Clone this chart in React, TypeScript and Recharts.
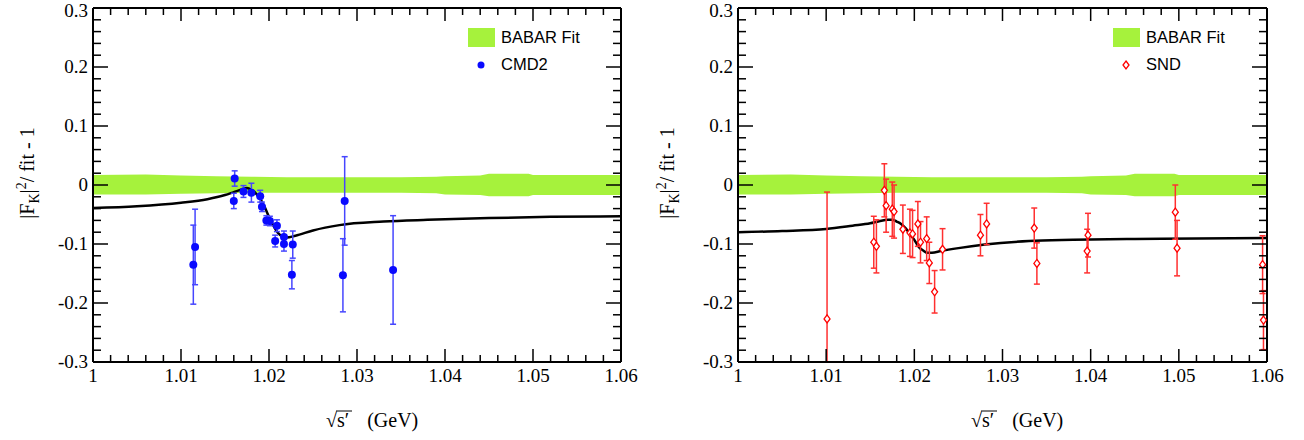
import React from "react";
import { ComposedChart, XAxis, YAxis, Scatter, Line, Area, ErrorBar, Legend } from "recharts";

// axis ticks
const xMajor = [1, 1.01, 1.02, 1.03, 1.04, 1.05, 1.06];
const xLabels = ["1", "1.01", "1.02", "1.03", "1.04", "1.05", "1.06"];
const yMajor = [-0.3, -0.2, -0.1, 0, 0.1, 0.2, 0.3];
const yLabels = ["-0.3", "-0.2", "-0.1", "0", "0.1", "0.2", "0.3"];

// CMD2 points
const cmd2X = [1.0114, 1.0116, 1.0161, 1.016, 1.0171, 1.018, 1.019, 1.0192, 1.0197, 1.0201, 1.0209, 1.0207, 1.0217, 1.0217, 1.0227, 1.0226, 1.0286, 1.0284, 1.0341];
const cmd2Y = [-0.135, -0.105, 0.011, -0.027, -0.011, -0.013, -0.019, -0.037, -0.06, -0.061, -0.069, -0.095, -0.088, -0.1, -0.101, -0.152, -0.027, -0.153, -0.144];
const cmd2Err = [0.067, 0.064, 0.013, 0.013, 0.01, 0.016, 0.01, 0.008, 0.008, 0.008, 0.01, 0.01, 0.01, 0.012, 0.023, 0.024, 0.075, 0.062, 0.092];

// SND points (lower error of the first point is cut at the frame, as drawn)
const sndX = [1.0101, 1.0154, 1.0157, 1.0166, 1.0168, 1.0175, 1.0177, 1.0187, 1.0195, 1.0198, 1.0204, 1.0207, 1.0214, 1.0217, 1.0223, 1.0232, 1.0275, 1.0282, 1.0336, 1.0339, 1.0397, 1.0396, 1.0496, 1.0498, 1.0595, 1.0596];
const sndY = [-0.227, -0.097, -0.104, -0.009, -0.035, -0.041, -0.045, -0.075, -0.081, -0.083, -0.066, -0.097, -0.091, -0.132, -0.181, -0.109, -0.085, -0.066, -0.073, -0.133, -0.085, -0.112, -0.046, -0.107, -0.135, -0.229];
const sndErrLo = [0.073, 0.044, 0.045, 0.045, 0.045, 0.046, 0.045, 0.041, 0.04, 0.04, 0.038, 0.035, 0.037, 0.035, 0.036, 0.035, 0.035, 0.035, 0.034, 0.035, 0.037, 0.037, 0.046, 0.047, 0.049, 0.05];
const sndErrHi = [0.215, 0.044, 0.045, 0.045, 0.045, 0.046, 0.045, 0.041, 0.04, 0.04, 0.038, 0.035, 0.037, 0.035, 0.036, 0.035, 0.035, 0.035, 0.034, 0.035, 0.037, 0.037, 0.046, 0.047, 0.049, 0.05];

// fit curves (black lines)
const fitX = [1.0, 1.005, 1.01, 1.013, 1.015, 1.016, 1.017, 1.0175, 1.018, 1.0185, 1.019, 1.0195, 1.02, 1.0205, 1.021, 1.0215, 1.022, 1.023, 1.025, 1.028, 1.033, 1.038, 1.045, 1.052, 1.06];
const fitCmd2 = [-0.039, -0.036, -0.03, -0.024, -0.017, -0.012, -0.007, -0.005, -0.008, -0.014, -0.023, -0.037, -0.054, -0.069, -0.081, -0.087, -0.089, -0.086, -0.077, -0.068, -0.062, -0.059, -0.056, -0.054, -0.053];
const fitSnd = [-0.08, -0.078, -0.0745, -0.069, -0.065, -0.0616, -0.059, -0.059, -0.062, -0.066, -0.073, -0.083, -0.093, -0.105, -0.111, -0.115, -0.115, -0.112, -0.107, -0.101, -0.095, -0.093, -0.0915, -0.0905, -0.0898];

// BABAR fit band
const bandX = [1.0, 1.006, 1.01, 1.014, 1.018, 1.022, 1.026, 1.03, 1.035, 1.039, 1.04, 1.044, 1.045, 1.0495, 1.05, 1.055, 1.06];
const bandLo = [-0.016, -0.016, -0.015, -0.014, -0.013, -0.013, -0.013, -0.013, -0.013, -0.014, -0.016, -0.017, -0.019, -0.019, -0.017, -0.017, -0.017];
const bandHi = [0.017, 0.018, 0.016, 0.015, 0.014, 0.013, 0.013, 0.013, 0.013, 0.014, 0.015, 0.016, 0.019, 0.019, 0.017, 0.017, 0.017];

const GREEN = "#a6f23c";
const SERIF = "Liberation Serif, Times New Roman, serif";
const SANS = "Liberation Sans, Arial, sans-serif";

const xTicks: number[] = [];
for (let i = 0; i <= 30; i++) xTicks.push(Math.round((1 + i * 0.002) * 10000) / 10000);
const yTicks: number[] = [];
for (let i = 0; i <= 30; i++) yTicks.push(Math.round((-0.3 + i * 0.02) * 1000) / 1000);

const majorIdx = (list: number[], v: number) => list.findIndex((m) => Math.abs(m - v) < 1e-6);

const bandData = bandX.map((x, i) => ({ x, band: [bandLo[i], bandHi[i]] }));

function BottomTick(props: any) {
  const { x, y, payload } = props;
  const i = majorIdx(xMajor, payload.value);
  const len = i >= 0 ? 12 : 6;
  const y0 = y - 1;
  return (
    <g>
      <line x1={x} x2={x} y1={y0} y2={y0 - len} stroke="#000" strokeWidth={1.5} />
      {i >= 0 && (
        <text x={x} y={y0 + 21} textAnchor="middle" fontFamily={SERIF} fontSize={19} fill="#000">
          {xLabels[i]}
        </text>
      )}
    </g>
  );
}

function TopTick(props: any) {
  const { x, y, payload } = props;
  const len = majorIdx(xMajor, payload.value) >= 0 ? 12 : 6;
  const y0 = y + 1;
  return <line x1={x} x2={x} y1={y0} y2={y0 + len} stroke="#000" strokeWidth={1.5} />;
}

function LeftTick(props: any) {
  const { x, y, payload } = props;
  const i = majorIdx(yMajor, payload.value);
  const len = i >= 0 ? 15 : 8;
  return (
    <g>
      <line x1={x} x2={x + len} y1={y} y2={y} stroke="#000" strokeWidth={1.5} />
      {i >= 0 && (
        <text x={x - 5} y={Math.max(y + 5.5, 17)} textAnchor="end" fontFamily={SERIF} fontSize={19} fill="#000">
          {yLabels[i]}
        </text>
      )}
    </g>
  );
}

function RightTick(props: any) {
  const { x, y, payload } = props;
  const len = majorIdx(yMajor, payload.value) >= 0 ? 15 : 8;
  return <line x1={x} x2={x - len} y1={y} y2={y} stroke="#000" strokeWidth={1.5} />;
}

function YTitle({ tx, ty }: { tx: number; ty: number }) {
  return (
    <text transform={`rotate(-90, ${tx}, ${ty})`} x={tx} y={ty} textAnchor="middle" fontFamily={SERIF} fontSize={20} fill="#000">
      |F<tspan dy={5} fontSize={14}>K</tspan>
      <tspan dy={-5}>|</tspan>
      <tspan dy={-8} fontSize={14}>2</tspan>
      <tspan dy={8}>/ fit - 1</tspan>
    </text>
  );
}

function XTitle({ tx, ty }: { tx: number; ty: number }) {
  return (
    <g>
      <text x={tx} y={ty} fontFamily={SERIF} fontSize={20} fill="#000">
        √<tspan>s′</tspan>
        <tspan dx={18}>(GeV)</tspan>
      </text>
      <line x1={tx + 10} x2={tx + 26} y1={ty - 16} y2={ty - 16} stroke="#000" strokeWidth={1} />
    </g>
  );
}

function Dot(props: any) {
  return <circle cx={props.cx} cy={props.cy} r={4} fill="#0a0aff" />;
}

function Diamond(props: any) {
  const { cx, cy } = props;
  return <polygon points={`${cx},${cy - 4} ${cx + 3},${cy} ${cx},${cy + 4} ${cx - 3},${cy}`} fill="#fff" stroke="#ff0000" strokeWidth={1.3} />;
}

function LegendBox({ label, marker }: { label: string; marker: React.ReactNode }) {
  return (
    <div style={{ fontFamily: SANS, fontSize: 16.5, color: "#000", lineHeight: "19px" }}>
      <div style={{ display: "flex", alignItems: "center", height: 19 }}>
        <div style={{ width: 27, height: 19, background: GREEN }} />
        <span style={{ marginLeft: 6 }}>BABAR Fit</span>
      </div>
      <div style={{ display: "flex", alignItems: "center", height: 19, marginTop: 8 }}>
        <svg width={27} height={19}>{marker}</svg>
        <span style={{ marginLeft: 6 }}>{label}</span>
      </div>
    </div>
  );
}

type PanelProps = {
  points: { x: number; y: number; err: number | number[] }[];
  fit: { x: number; y: number }[];
  label: string;
  errColor: string;
  shape: any;
  legendMarker: React.ReactNode;
  marginLeft: number;
  marginRight: number;
  legendLeft: number;
  yTitleX: number;
  xTitleX: number;
};

function Panel(p: PanelProps) {
  return (
    <ComposedChart width={652} height={440} margin={{ top: 7, right: p.marginRight - 1, bottom: 77, left: p.marginLeft - 1 }}>
      <XAxis xAxisId="b" dataKey="x" type="number" domain={[1, 1.06]} allowDataOverflow ticks={xTicks} interval={0}
        height={1} tickSize={0} tickMargin={0} tick={<BottomTick />} axisLine={{ stroke: "#000", strokeWidth: 2 }}
        label={<XTitle tx={p.xTitleX} ty={427} />} />
      <XAxis xAxisId="t" orientation="top" dataKey="x" type="number" domain={[1, 1.06]} allowDataOverflow ticks={xTicks}
        interval={0} height={1} tickSize={0} tickMargin={0} tick={<TopTick />} axisLine={{ stroke: "#000", strokeWidth: 2 }} />
      <YAxis yAxisId="l" dataKey="y" type="number" domain={[-0.3, 0.3]} allowDataOverflow ticks={yTicks} interval={0}
        width={1} tickSize={0} tickMargin={0} tick={<LeftTick />} axisLine={{ stroke: "#000", strokeWidth: 2 }}
        label={<YTitle tx={p.yTitleX} ty={173} />} />
      <YAxis yAxisId="r" orientation="right" type="number" domain={[-0.3, 0.3]} allowDataOverflow ticks={yTicks} interval={0}
        width={1} tickSize={0} tickMargin={0} tick={<RightTick />} axisLine={{ stroke: "#000", strokeWidth: 2 }} />
      <Area xAxisId="b" yAxisId="l" data={bandData} dataKey="band" type="linear" fill={GREEN} fillOpacity={1}
        stroke="none" isAnimationActive={false} />
      <Line xAxisId="b" yAxisId="l" data={p.fit} dataKey="y" type="monotone" stroke="#000" strokeWidth={2.5}
        dot={false} activeDot={false} isAnimationActive={false} />
      <Scatter xAxisId="b" yAxisId="l" data={p.points} dataKey="y" shape={p.shape} isAnimationActive={false}>
        <ErrorBar dataKey="err" direction="y" width={3} stroke={p.errColor} strokeWidth={1.5} />
      </Scatter>
      <Legend layout="vertical" align="center" verticalAlign="middle"
        wrapperStyle={{ left: p.legendLeft, top: 28, width: "auto", height: "auto" }}
        content={() => <LegendBox label={p.label} marker={p.legendMarker} />} />
    </ComposedChart>
  );
}

export default function App() {
  const cmd2 = cmd2X.map((x, i) => ({ x, y: cmd2Y[i], err: cmd2Err[i] }));
  const snd = sndX.map((x, i) => ({ x, y: sndY[i], err: [sndErrLo[i], sndErrHi[i]] }));
  const fitA = fitX.map((x, i) => ({ x, y: fitCmd2[i] }));
  const fitB = fitX.map((x, i) => ({ x, y: fitSnd[i] }));
  return (
    <div style={{ position: "absolute", left: 0, top: 0, width: 1304, height: 440, background: "#fff", display: "flex" }}>
      <Panel points={cmd2} fit={fitA} label="CMD2" errColor="#4646ff" shape={<Dot />}
        legendMarker={<circle cx={13} cy={10} r={3.5} fill="#0a0aff" />}
        marginLeft={93} marginRight={31} legendLeft={468} yTitleX={34} xTitleX={326} />
      <Panel points={snd} fit={fitB} label="SND" errColor="#ff3030" shape={<Diamond />}
        legendMarker={<polygon points="13,6 16,10 13,14 10,10" fill="#fff" stroke="#ff0000" strokeWidth={1.3} />}
        marginLeft={86} marginRight={37} legendLeft={461} yTitleX={22} xTitleX={319} />
    </div>
  );
}
